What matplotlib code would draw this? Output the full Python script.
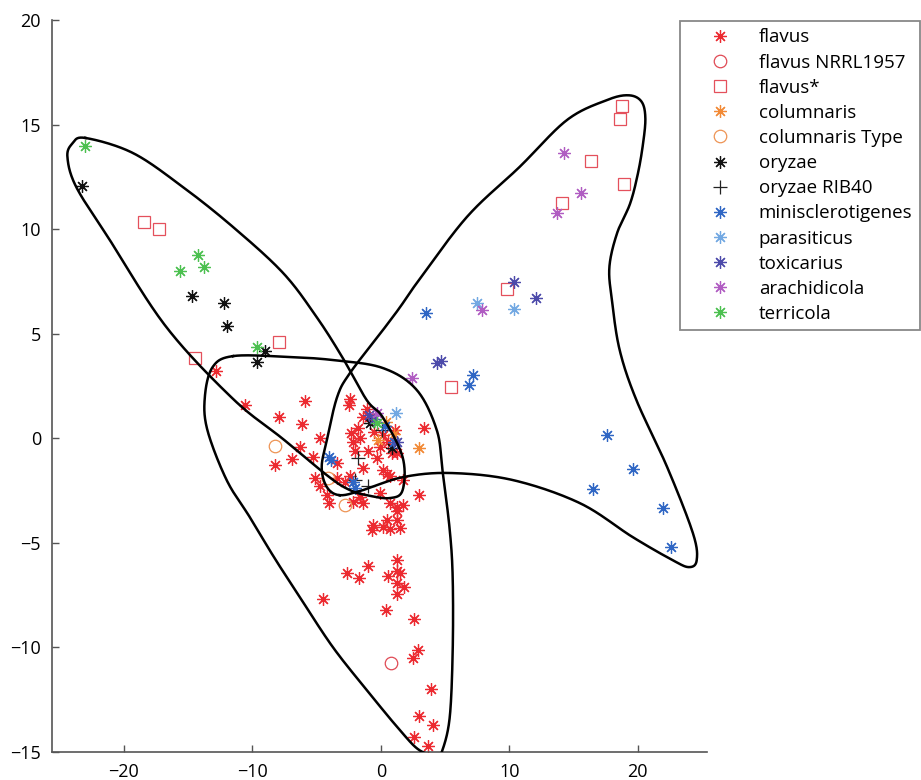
import numpy as np
import matplotlib
matplotlib.use("Agg")
import matplotlib.pyplot as plt

plt.rcParams['font.family'] = ['Open Sans', 'DejaVu Sans']

# species -> (x, y)
flavus_x = [-12.8, -10.6, -5.9, -7.9, -6.1, -4.7, -6.3, -6.9, -8.2, -5.3, -5.1, -4.7, -4.0, -4.2,
            -2.4, -2.5, -1.1, -1.4, -1.8, -2.3, -2.2, -2.0, -1.6, -0.3, 0.2, 0.5, 0.7, 0.9, 1.3,
            1.1, 0.2, -0.1, 3.35, 3.0, -3.4, -3.4, -2.4, -2.8, -1.4, -1.6, -1.4, -2.2, -0.1, 0.7,
            1.3, 1.7, 1.3, 1.25, 0.5, 0.2, 1.5, 0.7, -0.7, -0.6, -1.0, 1.3, 1.25, 1.5, 0.55,
            -2.65, -1.7, 1.25, 1.8, 1.25, -4.5, 0.4, 2.6, 2.9, 2.5, 3.9, 2.96, 4.05, 2.6, 3.65,
            -0.9, -0.5, 0.6, -1.0, 1.7]
flavus_y = [3.2, 1.6, 1.8, 1.0, 0.7, 0.0, -0.4, -1.0, -1.3, -0.9, -1.9, -2.3, -3.1, -2.7,
            1.9, 1.6, 1.4, 1.0, 0.5, 0.25, -0.2, -0.6, 0.0, -0.95, -1.5, -1.7, -1.8, -0.7, -0.7,
            0.4, 0.15, -0.4, 0.5, -2.7, -1.2, -1.9, -1.8, -2.1, -1.4, -2.8, -3.1, -3.05, -2.6, -3.1,
            -3.3, -3.2, -3.5, -3.9, -3.9, -4.25, -4.3, -4.35, -4.4, -4.15, -6.1, -5.8, -6.35, -6.45, -6.6,
            -6.45, -6.7, -6.9, -7.1, -7.45, -7.7, -8.2, -8.65, -10.1, -10.5, -12.0, -13.3, -13.7, -14.3, -14.7,
            1.0, 0.3, -0.2, -0.6, -2.0]
nrrl_x = [0.8]
nrrl_y = [-10.75]
flavus_star_x = [-18.4, -17.3, -14.5, -7.9, 18.8, 18.6, 16.4, 18.9, 14.1, 9.8, 5.5]
flavus_star_y = [10.34, 10.0, 3.84, 4.6, 15.89, 15.26, 13.26, 12.16, 11.25, 7.14, 2.45]
colum_x = [2.96, -0.2, 0.4, 1.0]
colum_y = [-0.45, -0.1, 0.8, 0.2]
colum_type_x = [-8.2, -2.8, -4.1]
colum_type_y = [-0.35, -3.2, -1.9]
oryzae_x = [-23.3, -14.7, -12.2, -12.0, -9.0, -9.6, -0.86, 0.86]
oryzae_y = [12.06, 6.8, 6.47, 5.37, 4.17, 3.64, 0.73, -0.47]
rib40_x = [-1.8, -2.0, -1.0, 0.1]
rib40_y = [-0.95, -2.0, -2.3, 0.4]
minis_x = [3.5, 7.2, 6.9, 17.6, 19.6, 16.5, 22.0, 22.6, -4.0, -3.9, -2.2, -2.0, 0.3, 1.0]
minis_y = [5.98, 3.02, 2.54, 0.15, -1.47, -2.43, -3.34, -5.2, -0.9, -1.05, -2.1, -2.4, 0.6, -0.2]
paras_x = [7.5, 10.4, 1.2]
paras_y = [6.47, 6.18, 1.2]
toxic_x = [10.4, 12.1, 4.4, 4.7, -0.9, -0.5, 1.3]
toxic_y = [7.47, 6.71, 3.6, 3.7, 1.1, 0.9, -0.2]
arach_x = [14.3, 15.6, 13.7, 7.9, 2.4, -0.3]
arach_y = [13.64, 11.73, 10.77, 6.13, 2.88, 1.2]
terri_x = [-23.0, -14.2, -13.8, -15.6, -9.6, -0.3]
terri_y = [13.97, 8.76, 8.19, 8.0, 4.36, 0.73]

# outlines (closed)
outline_a_x = [-23.0, -19.3, -15.4, -11.5, -7.6, -5.0, -3.0, -1.1, 0.16, 1.7, 1.7, 0.7, -1.1, -2.4,
               -4.0, -7.6, -11.5, -16.7, -21.1, -23.7, -24.4, -24.0]
outline_a_y = [14.36, 13.64, 12.01, 10.1, 7.9, 5.8, 3.88, 1.83, 1.0, -0.9, -2.48, -2.86, -2.72, -2.48,
               -1.86, -0.04, 1.88, 5.32, 9.48, 12.0, 13.45, 14.1]
outline_b_x = [-11.5, -7.5, -3.7, 0.16, 2.8, 4.36, 4.8, 5.37, 5.6, 5.6, 5.37, 4.8, 4.36, 3.0, 1.48,
               -1.09, -3.74, -6.3, -8.3, -10.2, -12.0, -13.5, -13.7, -13.1]
outline_b_y = [3.93, 3.9, 3.74, 3.36, 2.31, 0.39, -1.52, -4.39, -6.69, -10.13, -13.33, -14.91, -15.15,
               -14.91, -13.95, -12.04, -9.98, -7.6, -5.7, -3.77, -2.0, 0.39, 1.97, 3.4]
outline_c_x = [-3.2, -4.2, -4.6, -4.2, -3.4, -2.4, 0.16, 1.5, 2.8, 6.7, 10.8, 14.5, 17.6, 19.3, 20.3,
               20.6, 20.4, 20.0, 19.4, 18.4, 17.8, 18.0, 18.6, 19.9, 22.3, 24.3, 24.6, 24.0, 22.7,
               19.6, 15.5, 10.3, 5.4, 1.7, -1.4]
outline_c_y = [-2.72, -2.33, -1.38, -0.09, 1.97, 3.12, 5.17, 6.27, 7.42, 10.58, 12.97, 15.22, 16.17,
               16.4, 16.1, 15.3, 14.0, 12.6, 11.2, 9.81, 8.19, 6.6, 4.22, 1.83, -1.38, -4.53,
               -5.82, -6.16, -5.82, -4.72, -3.1, -2.0, -1.66, -1.86, -2.48]


def closed_curve(xs, ys, n=30):
    # catmull-rom through the points, wrapped round
    p = np.column_stack([xs, ys])
    m = len(p)
    t = np.linspace(0, 1, n, endpoint=False)[:, None]
    segs = []
    for i in range(m):
        p0, p1, p2, p3 = p[i - 1], p[i], p[(i + 1) % m], p[(i + 2) % m]
        segs.append(0.5 * (2 * p1 + (-p0 + p2) * t + (2 * p0 - 5 * p1 + 4 * p2 - p3) * t ** 2
                           + (-p0 + 3 * p1 - 3 * p2 + p3) * t ** 3))
    segs.append(p[:1])
    out = np.vstack(segs)
    return out[:, 0], out[:, 1]


fig = plt.figure(figsize=(9.21, 7.8), dpi=100)
ax = fig.add_axes([52 / 921, 28 / 780, 655 / 921, 732 / 780])

star = (8, 2, 0)
series = [
    (flavus_x, flavus_y, star, '#ec2a30', 'flavus', 9),
    (nrrl_x, nrrl_y, 'o', '#e04a55', 'flavus NRRL1957', 9),
    (flavus_star_x, flavus_star_y, 's', '#e4505c', 'flavus*', 8.5),
    (colum_x, colum_y, star, '#f28a36', 'columnaris', 9),
    (colum_type_x, colum_type_y, 'o', '#ee9455', 'columnaris Type', 9),
    (oryzae_x, oryzae_y, star, '#111111', 'oryzae', 9),
    (rib40_x, rib40_y, '+', '#222222', 'oryzae RIB40', 10),
    (minis_x, minis_y, star, '#2f66c4', 'minisclerotigenes', 9),
    (paras_x, paras_y, star, '#72a8e2', 'parasiticus', 9),
    (toxic_x, toxic_y, star, '#4c4aaa', 'toxicarius', 9),
    (arach_x, arach_y, star, '#b05cc2', 'arachidicola', 9),
    (terri_x, terri_y, star, '#4cc050', 'terricola', 9),
]
for xs, ys, mk, col, lab, ms in series:
    ax.plot(xs, ys, linestyle='none', marker=mk, ms=ms, mfc='none', mec=col, mew=0.9, label=lab)

for ox, oy in [(outline_a_x, outline_a_y), (outline_b_x, outline_b_y), (outline_c_x, outline_c_y)]:
    cx, cy = closed_curve(ox, oy)
    ax.plot(cx, cy, color='black', lw=1.8, zorder=5)

ax.set_xlim(-25.6, 25.4)
ax.set_ylim(-15, 20)
ax.set_xticks([-20, -10, 0, 10, 20])
ax.set_yticks([-15, -10, -5, 0, 5, 10, 15, 20])
ax.spines['top'].set_visible(False)
ax.spines['right'].set_visible(False)
for s in ['left', 'bottom']:
    ax.spines[s].set_color('#555555')
    ax.spines[s].set_linewidth(1.2)
ax.tick_params(direction='in', length=5, width=1, color='#555555', labelsize=13, pad=8)

leg = ax.legend(loc='upper left', bbox_to_anchor=(680 / 921, 1 - 21 / 780), bbox_transform=fig.transFigure,
                borderaxespad=0, fontsize=13.5, handlelength=3.5, handletextpad=0.3, labelspacing=0.38,
                fancybox=False, framealpha=1, edgecolor='#888888', numpoints=1)
leg.get_frame().set_linewidth(1.3)

plt.savefig('out.png', dpi=100)
